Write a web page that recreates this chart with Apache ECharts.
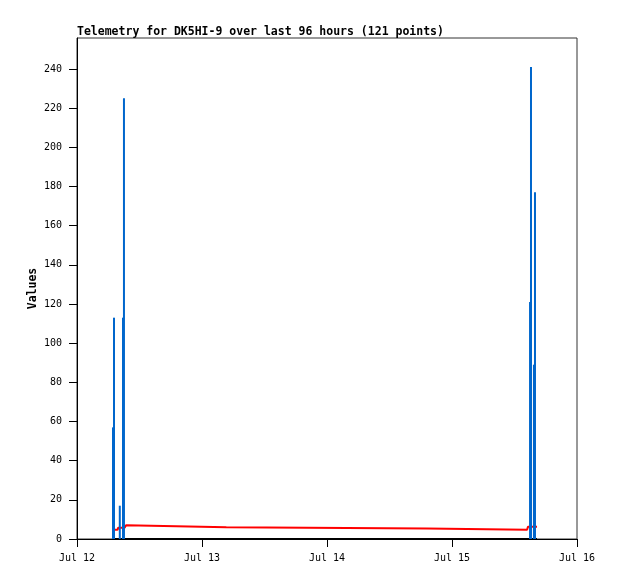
<!DOCTYPE html>
<html>
<head>
<meta charset="utf-8">
<script src="https://cdn.jsdelivr.net/npm/echarts@6/dist/echarts.min.js"></script>
<style>
html,body{margin:0;padding:0;background:#fff;}
#chart{width:618px;height:579px;}
</style>
</head>
<body>
<div id="chart"></div>
<script>
// ---- data ----
const titleText = 'Telemetry for DK5HI-9 over last 96 hours (121 points)';
const dayLabels = ['Jul 12', 'Jul 13', 'Jul 14', 'Jul 15', 'Jul 16'];
const yTickValues = [0, 20, 40, 60, 80, 100, 120, 140, 160, 180, 200, 220, 240];

// blue impulses
const blueTimes = ['2024-07-12 06:55', '2024-07-12 07:06', '2024-07-12 08:13', '2024-07-12 08:50', '2024-07-12 09:01',
                   '2024-07-15 14:59', '2024-07-15 15:10', '2024-07-15 15:44', '2024-07-15 15:56'];
const blueValues = [57, 113, 17, 113, 225, 121, 241, 89, 177];

// red line
const redTimes = ['2024-07-12 06:50', '2024-07-12 07:48', '2024-07-12 07:55', '2024-07-12 09:10', '2024-07-12 09:25',
                  '2024-07-12 09:35', '2024-07-13 04:40', '2024-07-13 04:50', '2024-07-14 19:10', '2024-07-14 19:20',
                  '2024-07-15 14:25', '2024-07-15 14:35', '2024-07-15 16:19'];
const redValues = [4.7, 4.7, 5.8, 5.8, 7.0, 6.0, 6.0, 5.3, 5.3, 4.75, 4.75, 6.3, 6.3];

// black baseline series
const blackTimes = ['2024-07-12 06:50', '2024-07-15 16:19'];
const blackValues = [0, 0];

// ---- build ----
function t(s) {
  const [d, hm] = s.split(' ');
  const [Y, M, D] = d.split('-').map(Number);
  const [h, m] = hm.split(':').map(Number);
  return Date.UTC(Y, M - 1, D, h, m);
}
const DAY = 86400000;
const xMin = Date.UTC(2024, 6, 12);
const xMax = Date.UTC(2024, 6, 16);
const FONT = '"DejaVu Sans Mono", "Liberation Mono", monospace';

const chart = echarts.init(document.getElementById('chart'));
chart.setOption({
  animation: false,
  backgroundColor: '#ffffff',
  title: {
    text: titleText,
    left: 72,
    top: 21,
    textStyle: {fontFamily: FONT, fontSize: 11.5, fontWeight: 'bold', color: '#000'}
  },
  grid: {left: 77, right: 41, top: 38, bottom: 40, show: true, borderColor: '#333', borderWidth: 1, backgroundColor: 'transparent'},
  xAxis: {
    type: 'value',
    min: xMin, max: xMax, interval: DAY,
    axisLine: {show: true, lineStyle: {color: '#000', width: 1}},
    axisTick: {show: true, length: 8, inside: false, lineStyle: {color: '#000'}},
    splitLine: {show: false},
    axisLabel: {
      margin: 14, color: '#000', fontFamily: FONT, fontSize: 10,
      formatter: v => dayLabels[Math.round((v - xMin) / DAY)]
    }
  },
  yAxis: {
    type: 'value',
    min: 0, max: 255.8,
    name: 'Values',
    nameLocation: 'middle',
    nameGap: 38,
    nameMoveOverlap: false,
    nameTextStyle: {fontFamily: FONT, fontSize: 11.5, fontWeight: 'bold', color: '#000'},
    axisLine: {show: true, lineStyle: {color: '#000', width: 1}},
    axisTick: {show: true, length: 8, customValues: yTickValues, lineStyle: {color: '#000'}},
    splitLine: {show: false},
    axisLabel: {margin: 15, color: '#000', fontFamily: FONT, fontSize: 10, customValues: yTickValues}
  },
  series: [
    {
      type: 'line',
      data: blackTimes.map((s, i) => [t(s), blackValues[i]]),
      showSymbol: false,
      lineStyle: {color: '#000', width: 2},
      z: 2
    },
    {
      type: 'line',
      data: redTimes.map((s, i) => [t(s), redValues[i]]),
      showSymbol: false,
      lineStyle: {color: '#ff0000', width: 2},
      z: 3
    },
    {
      type: 'bar',
      data: blueTimes.map((s, i) => [t(s), blueValues[i]]),
      barWidth: 2,
      itemStyle: {color: '#0066cc'},
      z: 4
    }
  ]
});
</script>
</body>
</html>
